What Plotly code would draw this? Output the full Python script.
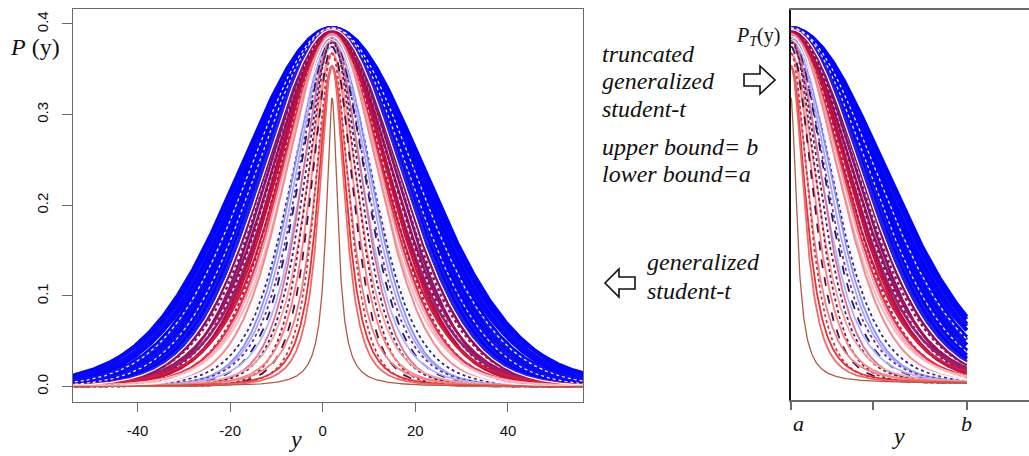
import math
import numpy as np
import plotly.graph_objects as go

# ---------------- data ----------------
LOCATION = 2.0            # centre of every generalized student-t curve
LOWER_A = 2.0             # lower truncation bound a
UPPER_B = 39.0            # upper truncation bound b

# scale and degrees of freedom of each curve (outer -> inner)
blue_scale = [20.0, 19.6, 19.3, 19.0, 18.7, 18.4, 18.0, 17.6, 17.2, 16.9, 16.6, 16.3, 16.0, 15.7, 15.4, 15.1]
blue_df = [30, 15, 30, 20, 30, 12, 30, 20, 30, 15, 30, 20, 30, 30, 25, 30]
white_scale = [17.8, 16.4, 14.75, 9.8, 9.4]
white_df = [30, 30, 20, 8, 6]
purple_scale = [14.5, 14.1, 13.7, 13.4, 13.1, 12.8, 12.5]
purple_df = [20, 12, 30, 10, 15, 8, 12]
crimson_scale = [12.2, 11.9, 11.6, 11.3]
crimson_df = [10, 6, 12, 8]
pink_scale = [11.0, 10.6, 10.2]
pink_df = [8, 6, 10]
navy_scale = [9.0, 8.6, 8.2, 7.8, 7.4, 7.0, 6.6, 6.2]
navy_df = [6, 8, 6, 5, 6, 4, 6, 5]
red_scale = [5.8, 5.4, 5.0, 4.6, 4.2, 3.8, 3.4, 3.0]
red_df = [3, 6, 3, 4, 2, 3, 2, 2]
cauchy_scale = [1.5]
cauchy_df = [1]

# axis ticks
x_ticks = [-40, -20, 0, 20, 40]
y_ticks = [0.0, 0.1, 0.2, 0.3, 0.4]
y_tick_text = ["0.0", "0.1", "0.2", "0.3", "0.4"]
right_ticks = [LOWER_A, 19.4, UPPER_B]

# ---------------- styles ----------------
blue_color = ["#0000FF", "#0505F5", "#0000FF", "#1010EE", "#0000FF", "#0808F8", "#0000FF", "#1515EA",
              "#0000FF", "#0A0AF2", "#0000FF", "#1212E8", "#0000FF", "#1818E0", "#0000FF", "#2020E6"]
white_color = ["#FFFFFF", "#F4F4FF", "#FFFFFF", "#FFFFFF", "#FFF0F0"]
purple_color = ["#8E0F5E", "#99105A", "#7F1670", "#A3125A", "#8A1050", "#9A2070", "#B0104A"]
crimson_color = ["#C8103C", "#D02040", "#B81840", "#E03050"]
pink_color = ["#F4A0A8", "#F7B8C0", "#F08A90"]
navy_color = ["#2A2A80", "#8C8CFF", "#A8A8FF", "#6A3090", "#1C1C6C", "#B0B0FF", "#E07090", "#402060"]
red_color = ["#F4A0A0", "#8B1040", "#FF8080", "#501040", "#F08080", "#C83050", "#E83030", "#F06868"]
cauchy_color = ["#B05A46"]

groups = [
    (blue_scale, blue_df, blue_color, 4.0, ["solid"] * 16),
    (purple_scale, purple_df, purple_color, 2.6, ["solid", "dot", "solid", "solid", "dot", "solid", "solid"]),
    (crimson_scale, crimson_df, crimson_color, 2.2, ["solid", "solid", "dot", "solid"]),
    (pink_scale, pink_df, pink_color, 2.0, ["solid"] * 3),
    (navy_scale, navy_df, navy_color, 1.8, ["dot", "solid", "solid", "dot", "dash", "solid", "solid", "dot"]),
    (red_scale, red_df, red_color, 1.8, ["solid", "dot", "solid", "dash", "solid", "dot", "solid", "solid"]),
    (white_scale, white_df, white_color, 1.2, ["dot", "dot", "solid", "solid", "solid"]),
    (cauchy_scale, cauchy_df, cauchy_color, 1.3, ["solid"]),
]

W, H = 1029, 456


def t_density(z, nu):
    c = math.exp(math.lgamma((nu + 1) / 2) - math.lgamma(nu / 2)) / math.sqrt(nu * math.pi)
    return c * (1 + z ** 2 / nu) ** (-(nu + 1) / 2)


def px(x):
    return x / W


def py(y):
    return 1 - y / H


fig = go.Figure()
grid_full = np.linspace(-60, 62, 1221)
grid_trunc = np.linspace(LOWER_A, UPPER_B, 371)

for scales, dfs, cols, wd, dashes in groups:
    for s, nu, col, ds in zip(scales, dfs, cols, dashes):
        fig.add_trace(go.Scatter(x=grid_full, y=t_density((grid_full - LOCATION) / s, nu),
                                 mode="lines", line=dict(color=col, width=wd, dash=ds),
                                 xaxis="x", yaxis="y", hoverinfo="skip", showlegend=False))
        fig.add_trace(go.Scatter(x=grid_trunc, y=t_density((grid_trunc - LOCATION) / s, nu),
                                 mode="lines", line=dict(color=col, width=wd, dash=ds),
                                 xaxis="x2", yaxis="y2", hoverinfo="skip", showlegend=False))

axis_gray = "#6a6a6a"
tick_font = dict(family="Liberation Sans, Arial, sans-serif", size=15, color="#111111")

fig.update_layout(
    width=W, height=H,
    margin=dict(l=0, r=0, t=0, b=0),
    paper_bgcolor="white", plot_bgcolor="white",
    xaxis=dict(domain=[px(72.7), px(583)], range=[-54.0, 56.2],
               tickvals=x_ticks, ticktext=[str(v) for v in x_ticks],
               ticks="outside", ticklen=9, tickcolor=axis_gray, tickwidth=1.2,
               showline=True, linecolor=axis_gray, linewidth=1.3, mirror=True,
               showgrid=False, zeroline=False, tickfont=tick_font, ticklabelstandoff=6),
    yaxis=dict(domain=[py(401.7), py(9.3)], range=[-0.0166, 0.4162],
               tickvals=y_ticks, ticktext=y_tick_text, tickangle=-90,
               ticks="outside", ticklen=10, tickcolor=axis_gray, tickwidth=1.2,
               showline=True, linecolor=axis_gray, linewidth=1.3, mirror=True,
               showgrid=False, zeroline=False, tickfont=tick_font, ticklabelstandoff=8),
    xaxis2=dict(domain=[px(790.7), 1.0], range=[LOWER_A, 52.1], anchor="y2",
                tickvals=right_ticks, showticklabels=False,
                ticks="outside", ticklen=8, tickcolor=axis_gray, tickwidth=1.5,
                showline=True, linecolor=axis_gray, linewidth=1.5, mirror=True,
                showgrid=False, zeroline=False),
    yaxis2=dict(domain=[py(400), py(10)], range=[-0.0186, 0.4156], anchor="x2",
                showticklabels=False, ticks="",
                showline=True, linecolor="#111111", linewidth=2, mirror=False,
                showgrid=False, zeroline=False),
)

serif = "Liberation Serif, Times New Roman, serif"


def note(text, x, y, size, xanchor="center", family=serif):
    fig.add_annotation(text=text, x=px(x), y=py(y), xref="paper", yref="paper",
                       xanchor=xanchor, yanchor="middle", showarrow=False,
                       font=dict(family=family, size=size, color="#111111"))


def outline_arrow(points):
    path = "M " + " L ".join(f"{px(x):.5f},{py(y):.5f}" for x, y in points) + " Z"
    fig.add_shape(type="path", path=path, xref="paper", yref="paper",
                  line=dict(color="#111111", width=1.6), fillcolor="white")


note("<i>P</i> (y)", 35, 47, 24)
note("<i>y</i>", 295, 439, 24)
note("<i>P<sub>T</sub></i>(y)", 758, 37, 20)
note("<i>truncated</i>", 600, 54, 24, "left")
note("<i>generalized</i>", 600, 81, 24, "left")
note("<i>student-t</i>", 600, 109, 24, "left")
note("<i>upper bound= b</i>", 600, 147, 24, "left")
note("<i>lower bound=a</i>", 600, 174, 24, "left")
note("<i>generalized</i>", 645, 262, 24, "left")
note("<i>student-t</i>", 645, 291, 24, "left")
note("<i>a</i>", 798, 423, 22)
note("<i>b</i>", 966.7, 423, 22)
note("<i>y</i>", 898, 436, 24)

outline_arrow([(744, 74), (760, 74), (760, 66), (775, 80), (760, 94), (760, 86), (744, 86)])
outline_arrow([(635, 277), (619, 277), (619, 269), (605, 283), (619, 297), (619, 289), (635, 289)])

fig.write_html("out.html", config={"displayModeBar": False},
               post_script="document.body.style.margin='0';document.body.style.overflow='hidden';")
